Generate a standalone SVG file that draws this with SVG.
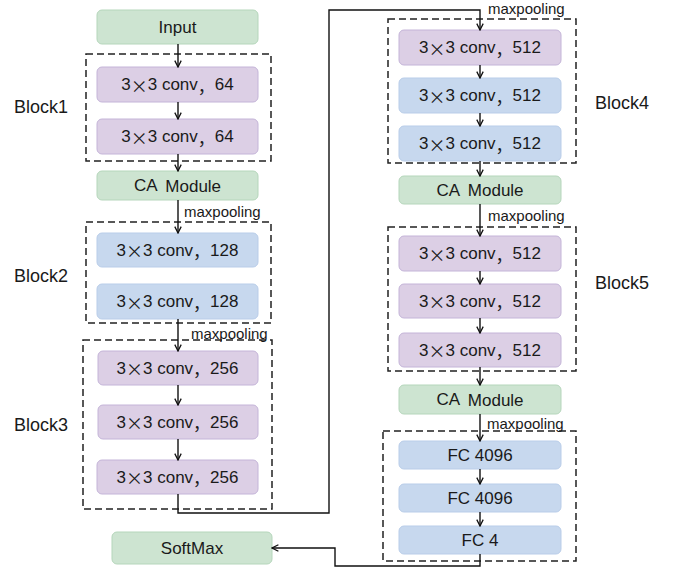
<svg xmlns="http://www.w3.org/2000/svg" width="673" height="567" viewBox="0 0 673 567">
<defs>
<style>
.g{fill:#cde4d1;stroke:#b5d6bb;stroke-width:1}
.p{fill:#dccfe5;stroke:#c4b4d8;stroke-width:1}
.b{fill:#c7d8ee;stroke:#b9cde9;stroke-width:1}
.t{font-family:"Liberation Sans","Noto Sans CJK SC",sans-serif;font-size:17px;fill:#1a1a1a;text-anchor:middle;dominant-baseline:central}
.x{font-family:"Noto Sans CJK SC",sans-serif}
.lb{font-family:"Liberation Sans",sans-serif;font-size:18px;fill:#1a1a1a;dominant-baseline:central}
.mp{font-family:"Liberation Sans",sans-serif;font-size:15px;fill:#1a1a1a;dominant-baseline:central}
.d{fill:none;stroke:#222;stroke-width:1.5;stroke-dasharray:7 4}
.c{fill:none;stroke:#111;stroke-width:1.4;marker-end:url(#ah)}
</style>
<marker id="ah" viewBox="0 0 10 10" refX="9" refY="5" markerWidth="8" markerHeight="8" markerUnits="userSpaceOnUse" orient="auto">
<path d="M1,1 L9,5 L1,9" fill="none" stroke="#111" stroke-width="1.6"/>
</marker>
</defs>

<g id="blocks">
<rect class="d" x="86" y="54" width="185" height="107"/>
<rect class="d" x="86" y="222" width="185" height="101"/>
<rect class="d" x="83" y="340" width="189" height="169"/>
<rect class="d" x="388" y="19" width="188" height="144"/>
<rect class="d" x="388" y="227" width="188" height="144"/>
<rect class="d" x="383" y="431" width="193" height="130"/>
<text class="lb" x="14" y="107">Block1</text>
<text class="lb" x="14" y="276">Block2</text>
<text class="lb" x="14" y="425">Block3</text>
<text class="lb" x="595" y="103">Block4</text>
<text class="lb" x="595" y="283">Block5</text>
</g>

<g id="input"><rect class="g" x="97" y="10" width="161" height="34" rx="5"/><text class="t" x="177.5" y="27">Input</text></g>
<g id="c64a"><rect class="p" x="97" y="67" width="161" height="35" rx="5"/><text class="t" x="177.5" y="84.5">3<tspan class="x">×</tspan>3 conv<tspan class="x">，</tspan>64</text></g>
<g id="c64b"><rect class="p" x="97" y="119" width="161" height="35" rx="5"/><text class="t" x="177.5" y="136.5">3<tspan class="x">×</tspan>3 conv<tspan class="x">，</tspan>64</text></g>
<g id="ca1"><rect class="g" x="97" y="171" width="161" height="29" rx="5"/><text class="t" x="177.5" y="185.5">CA <tspan dx="4">Module</tspan></text></g>
<g id="c128a"><rect class="b" x="97" y="233" width="161" height="34" rx="5"/><text class="t" x="177.5" y="250">3<tspan class="x">×</tspan>3 conv<tspan class="x">，</tspan>128</text></g>
<g id="c128b"><rect class="b" x="97" y="284" width="161" height="35" rx="5"/><text class="t" x="177.5" y="301.5">3<tspan class="x">×</tspan>3 conv<tspan class="x">，</tspan>128</text></g>
<g id="c256a"><rect class="p" x="98" y="351" width="160" height="34" rx="5"/><text class="t" x="177.5" y="368">3<tspan class="x">×</tspan>3 conv<tspan class="x">，</tspan>256</text></g>
<g id="c256b"><rect class="p" x="98" y="405" width="160" height="34" rx="5"/><text class="t" x="177.5" y="422">3<tspan class="x">×</tspan>3 conv<tspan class="x">，</tspan>256</text></g>
<g id="c256c"><rect class="p" x="97" y="460" width="161" height="34" rx="5"/><text class="t" x="177.5" y="477">3<tspan class="x">×</tspan>3 conv<tspan class="x">，</tspan>256</text></g>
<g id="softmax"><rect class="g" x="112" y="532" width="160" height="32" rx="5"/><text class="t" x="192" y="548">SoftMax</text></g>

<g id="c512a"><rect class="p" x="399" y="30" width="162" height="35" rx="5"/><text class="t" x="480" y="47.5">3<tspan class="x">×</tspan>3 conv<tspan class="x">，</tspan>512</text></g>
<g id="c512b"><rect class="b" x="399" y="78" width="162" height="35" rx="5"/><text class="t" x="480" y="95.5">3<tspan class="x">×</tspan>3 conv<tspan class="x">，</tspan>512</text></g>
<g id="c512c"><rect class="b" x="399" y="126" width="162" height="35" rx="5"/><text class="t" x="480" y="143.5">3<tspan class="x">×</tspan>3 conv<tspan class="x">，</tspan>512</text></g>
<g id="ca2"><rect class="g" x="399" y="176" width="162" height="28" rx="5"/><text class="t" x="480" y="190">CA <tspan dx="4">Module</tspan></text></g>
<g id="c512d"><rect class="p" x="399" y="236" width="162" height="35" rx="5"/><text class="t" x="480" y="253.5">3<tspan class="x">×</tspan>3 conv<tspan class="x">，</tspan>512</text></g>
<g id="c512e"><rect class="p" x="399" y="284" width="162" height="34" rx="5"/><text class="t" x="480" y="301">3<tspan class="x">×</tspan>3 conv<tspan class="x">，</tspan>512</text></g>
<g id="c512f"><rect class="p" x="399" y="333" width="162" height="34" rx="5"/><text class="t" x="480" y="350">3<tspan class="x">×</tspan>3 conv<tspan class="x">，</tspan>512</text></g>
<g id="ca3"><rect class="g" x="399" y="385" width="162" height="29" rx="5"/><text class="t" x="480" y="399.5">CA <tspan dx="4">Module</tspan></text></g>
<g id="fc1"><rect class="b" x="399" y="441" width="162" height="28" rx="5"/><text class="t" x="480" y="455">FC 4096</text></g>
<g id="fc2"><rect class="b" x="399" y="484" width="162" height="28" rx="5"/><text class="t" x="480" y="498">FC 4096</text></g>
<g id="fc3"><rect class="b" x="399" y="526" width="162" height="28" rx="5"/><text class="t" x="480" y="540">FC 4</text></g>

<g id="connectors">
<path class="c" d="M178,44 V67"/>
<path class="c" d="M178,102 V119"/>
<path class="c" d="M178,154 V171"/>
<path class="c" d="M178,200 V233"/>
<path class="c" d="M178,319 V351"/>
<path class="c" d="M178,385 V405"/>
<path class="c" d="M178,439 V460"/>
<path class="c" d="M178,494 V513 H329 V10 H480 V30"/>
<path class="c" d="M480,65 V78"/>
<path class="c" d="M480,113 V126"/>
<path class="c" d="M480,161 V176"/>
<path class="c" d="M480,204 V236"/>
<path class="c" d="M480,271 V284"/>
<path class="c" d="M480,318 V333"/>
<path class="c" d="M480,367 V385"/>
<path class="c" d="M480,414 V441"/>
<path class="c" d="M480,469 V484"/>
<path class="c" d="M480,512 V526"/>
<path class="c" d="M480,554 V566 H335 V548 H272"/>
<text class="mp" x="184" y="211">maxpooling</text>
<text class="mp" x="191" y="333">maxpooling</text>
<text class="mp" x="488" y="8">maxpooling</text>
<text class="mp" x="488" y="215">maxpooling</text>
<text class="mp" x="487" y="423">maxpooling</text>
</g>
</svg>
